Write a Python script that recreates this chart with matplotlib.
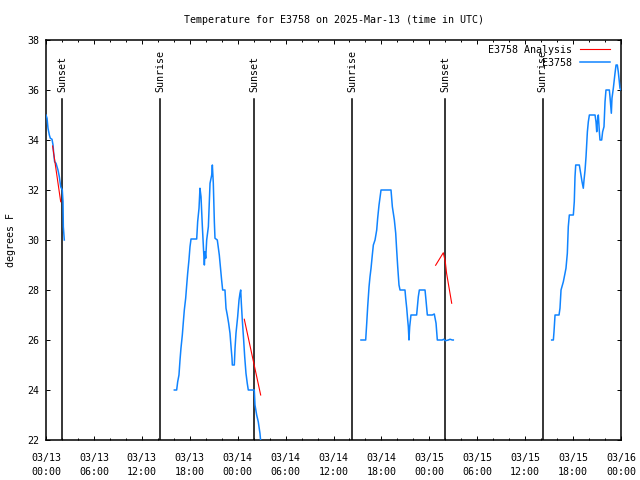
import numpy as np
import matplotlib
matplotlib.use('Agg')
import matplotlib.pyplot as plt
import matplotlib.dates as mdates
import pandas as pd

FONT = 'DejaVu Sans Mono'
FS = 7.2
T0 = pd.Timestamp('2025-03-13 00:00')

# observed temperature, hours after 03/13 00:00 UTC -> degrees F
obs1_h = [0.0, 0.13, 0.25, 0.42, 0.54, 0.75, 0.88, 0.96, 1.08, 1.25, 1.5, 1.67, 1.84, 2.04, 2.13, 2.17, 2.29]
obs1_t = [35.0, 34.87, 34.47, 34.2, 34.07, 34.03, 33.8, 33.47, 33.13, 33.07, 32.8, 32.53, 32.13, 32.0, 31.53, 30.53, 30.0]

obs2_h = [16.07, 16.36, 16.49, 16.65, 16.78, 16.9, 17.07, 17.2, 17.32, 17.49, 17.62, 17.74, 17.9, 18.03,
          18.16, 18.87, 18.99, 19.16, 19.28, 19.41, 19.57, 19.74, 19.83, 19.91, 20.0, 20.12, 20.33, 20.54,
          20.75, 20.83, 20.95, 21.08, 21.16, 21.45, 21.7, 21.99, 22.12, 22.41, 22.54, 22.7, 22.87, 23.04,
          23.17, 23.29, 23.33, 23.58, 23.67, 23.79, 24.0, 24.17, 24.29, 24.38, 24.46, 24.58, 24.75, 24.88,
          25.04, 25.2, 25.33, 26.08, 26.17, 26.38, 26.58, 26.79, 26.87, 27.0]
obs2_t = [24.0, 24.0, 24.33, 24.6, 25.2, 25.67, 26.2, 26.73, 27.2, 27.67, 28.2, 28.67, 29.2, 29.73,
          30.04, 30.04, 30.73, 31.27, 32.07, 31.73, 30.6, 29.53, 29.0, 29.53, 29.27, 30.0, 30.53, 32.27,
          32.6, 33.0, 32.27, 30.73, 30.07, 30.0, 29.4, 28.4, 28.0, 28.0, 27.27, 27.0, 26.67, 26.27,
          25.73, 25.27, 25.0, 25.0, 25.67, 26.27, 26.93, 27.6, 27.87, 28.0, 27.47, 26.8, 26.0, 25.33,
          24.67, 24.27, 24.0, 24.0, 23.4, 23.0, 22.73, 22.27, 22.0, 21.6]

obs3_h = [39.44, 40.03, 40.16, 40.28, 40.45, 40.57, 40.7, 40.86, 40.99, 41.2, 41.41, 41.53, 41.7, 41.95,
          43.2, 43.37, 43.62, 43.79, 43.91, 44.04, 44.2, 44.33, 44.95, 45.04, 45.17, 45.29, 45.37, 45.45,
          45.54, 45.7, 46.41, 46.62, 46.75, 47.46, 47.58, 47.75, 48.37, 48.62, 48.84, 49.0, 49.62, 49.8,
          50.0, 50.38, 50.59, 50.88, 51.0]
obs3_t = [26.0, 26.0, 26.67, 27.33, 28.13, 28.53, 28.87, 29.4, 29.8, 30.0, 30.4, 30.87, 31.4, 32.0,
          32.0, 31.33, 30.8, 30.27, 29.6, 28.93, 28.2, 28.0, 28.0, 27.67, 27.27, 26.8, 26.53, 26.0,
          26.53, 27.0, 27.0, 27.73, 28.0, 28.0, 27.6, 27.0, 27.0, 27.04, 26.67, 26.0, 26.0, 26.03,
          25.97, 26.0, 26.03, 26.0, 26.0]

obs4_h = [63.32, 63.53, 63.61, 63.74, 64.24, 64.36, 64.49, 64.78, 64.99, 65.11, 65.28, 65.4, 65.53, 66.03,
          66.15, 66.24, 66.33, 66.78, 66.95, 67.12, 67.28, 67.37, 67.5, 67.62, 67.79, 67.91, 68.04, 68.75,
          68.87, 68.96, 69.04, 69.16, 69.29, 69.37, 69.58, 69.7, 69.87, 70.0, 70.12, 70.54, 70.62, 70.79,
          70.87, 71.04, 71.25, 71.38, 71.54, 71.66, 71.79, 71.87, 72.0]
obs4_t = [26.0, 26.0, 26.33, 27.0, 27.0, 27.27, 28.0, 28.33, 28.67, 28.87, 29.47, 30.53, 31.0, 31.0,
          31.53, 32.53, 33.0, 33.0, 32.67, 32.33, 32.07, 32.4, 32.8, 33.33, 34.33, 34.73, 35.0, 35.0,
          34.73, 34.33, 34.73, 35.0, 34.33, 34.0, 34.0, 34.33, 34.53, 35.53, 36.0, 36.0, 35.73, 35.07,
          35.67, 36.07, 36.67, 37.0, 37.0, 36.73, 36.33, 36.07, 36.0]

# analysis segments
ana1_h = [0.83, 1.84]
ana1_t = [33.76, 31.53]
ana2_h = [24.83, 26.88]
ana2_t = [26.83, 23.8]
ana3_h = [48.79, 49.75, 50.0, 50.16, 50.8]
ana3_t = [28.99, 29.49, 29.13, 28.67, 27.47]

sun_h = [2.04, 14.3, 26.07, 38.33, 49.98, 62.2]
sun_lbl = ['Sunset', 'Sunrise', 'Sunset', 'Sunrise', 'Sunset', 'Sunrise']


def to_time(h):
    return T0 + pd.to_timedelta(np.array(h), unit='h')


BLUE = '#1084ff'

fig = plt.figure(figsize=(6.4, 4.8), dpi=100)
ax = fig.add_axes([46 / 640, 40 / 480, 575 / 640, 400 / 480])

for i, (hh, tt) in enumerate([(ana1_h, ana1_t), (ana2_h, ana2_t), (ana3_h, ana3_t)]):
    ax.plot(to_time(hh), tt, color='red', lw=0.8, zorder=4,
            label='E3758 Analysis' if i == 0 else None)
for i, (hh, tt) in enumerate([(obs1_h, obs1_t), (obs2_h, obs2_t), (obs3_h, obs3_t), (obs4_h, obs4_t)]):
    ax.plot(to_time(hh), tt, color=BLUE, lw=1.1, zorder=3,
            label='E3758' if i == 0 else None)

for h, lbl in zip(sun_h, sun_lbl):
    x = to_time([h])[0]
    ax.axvline(x, ymin=0, ymax=0.852, color='black', lw=1.1, zorder=2)
    ax.text(x, 0.87, lbl, transform=ax.get_xaxis_transform(), rotation=90,
            ha='center', va='bottom', fontname=FONT, fontsize=FS, zorder=5)

ax.set_xlim(T0, T0 + pd.Timedelta(hours=72))
ax.set_ylim(22, 38)
ax.set_yticks(np.arange(22, 39, 2))
ax.xaxis.set_major_locator(mdates.HourLocator(byhour=range(0, 24, 6)))
ax.xaxis.set_minor_locator(mdates.HourLocator(byhour=range(0, 24, 2)))
ax.xaxis.set_major_formatter(mdates.DateFormatter('%m/%d\n%H:%M'))

ax.tick_params(which='major', direction='in', length=3, width=0.7, top=True, right=True,
               labelsize=FS)
ax.tick_params(axis='x', which='major', pad=9)
ax.tick_params(axis='y', which='major', pad=5)
ax.tick_params(which='minor', direction='in', length=1.6, width=0.7, top=True, right=True)
for lab in ax.get_xticklabels() + ax.get_yticklabels():
    lab.set_fontname(FONT)
for lab in ax.get_xticklabels():
    lab.set_linespacing(1.6)
for s in ax.spines.values():
    s.set_linewidth(1.1)

ax.set_title('Temperature for E3758 on 2025-Mar-13 (time in UTC)', fontname=FONT, fontsize=FS, pad=12)
ax.set_ylabel('degrees F', fontname=FONT, fontsize=FS)
ax.yaxis.set_label_coords(-0.052, 0.5)

leg = ax.legend(loc='upper right', bbox_to_anchor=((610 - 46) / 575, (440 - 45) / 400),
                frameon=False, markerfirst=False, borderpad=0, borderaxespad=0,
                handlelength=3.0, handletextpad=0.8, labelspacing=0.3,
                prop={'family': FONT, 'size': FS})

fig.savefig('out.png', dpi=100)
